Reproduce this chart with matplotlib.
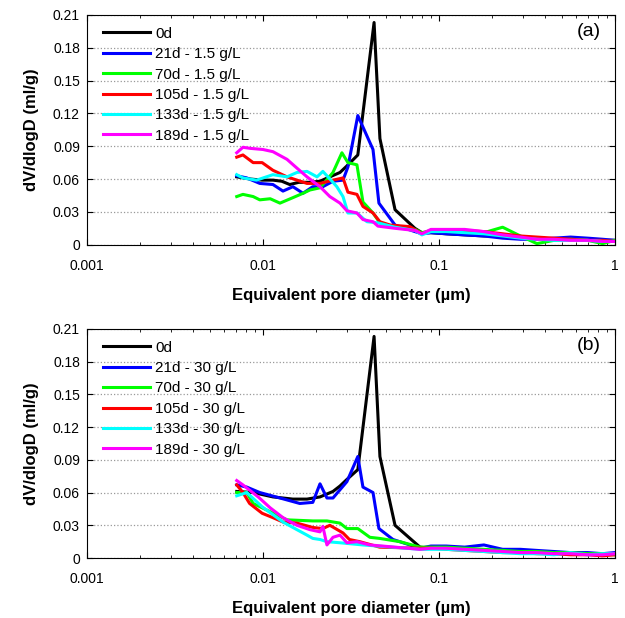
import matplotlib
matplotlib.use("Agg")
import matplotlib.pyplot as plt
from matplotlib.ticker import FixedLocator, LogLocator, NullFormatter

plt.rcParams['font.family'] = ['Liberation Sans', 'DejaVu Sans']

# pore diameters (um) and dV/dlogD (ml/g)
tail_a_x = [0.08, 0.09, 0.11, 0.14, 0.18, 0.23, 0.29, 0.36, 0.45, 0.56, 0.7, 0.85, 1.0]
tail_b_x = [0.09, 0.11, 0.14, 0.18, 0.23, 0.29, 0.36, 0.45, 0.56, 0.7, 0.85, 1.0]

# ---- (a) 1.5 g/L ----
black_a_x = [0.0071, 0.0085, 0.0099, 0.0114, 0.0128, 0.0142, 0.016, 0.0185, 0.0211, 0.024,
             0.0274, 0.030, 0.0346, 0.0428, 0.0462, 0.0563, 0.073]
black_a_y = [0.062, 0.060, 0.059, 0.059, 0.058, 0.055, 0.057, 0.057, 0.058, 0.062,
             0.066, 0.072, 0.082, 0.203, 0.097, 0.032, 0.015]
black_a_t = [0.011, 0.011, 0.010, 0.009, 0.008, 0.008, 0.007, 0.006, 0.005, 0.005, 0.005, 0.004, 0.004]

blue_a_x = [0.0071, 0.0081, 0.0096, 0.0114, 0.013, 0.0148, 0.0169, 0.0192, 0.0219, 0.025,
            0.0285, 0.0304, 0.0346, 0.0422, 0.0456, 0.0563, 0.073]
blue_a_y = [0.063, 0.061, 0.056, 0.055, 0.049, 0.053, 0.047, 0.053, 0.053, 0.058,
            0.059, 0.071, 0.118, 0.087, 0.038, 0.018, 0.012]
blue_a_t = [0.010, 0.011, 0.010, 0.009, 0.008, 0.006, 0.005, 0.005, 0.006, 0.007, 0.006, 0.005, 0.004]

green_a_x = [0.0071, 0.0077, 0.0088, 0.0096, 0.011, 0.0125, 0.0148, 0.0169, 0.0185, 0.0211,
             0.025, 0.0281, 0.0304, 0.0342, 0.037, 0.0422, 0.0462, 0.0563, 0.073]
green_a_y = [0.044, 0.046, 0.044, 0.041, 0.042, 0.038, 0.043, 0.047, 0.050, 0.052,
             0.066, 0.084, 0.075, 0.073, 0.039, 0.029, 0.020, 0.016, 0.014]
green_a_t = [0.011, 0.013, 0.013, 0.012, 0.011, 0.016, 0.008, 0.001, 0.004, 0.005, 0.004, 0.001, 0.004]

red_a_x = [0.0071, 0.0077, 0.0088, 0.0099, 0.0114, 0.0137, 0.0178, 0.0211, 0.025, 0.0285,
           0.0304, 0.0342, 0.037, 0.0422, 0.0462, 0.0527, 0.0684]
red_a_y = [0.080, 0.082, 0.075, 0.075, 0.068, 0.062, 0.056, 0.056, 0.059, 0.061,
           0.048, 0.046, 0.035, 0.029, 0.021, 0.018, 0.0165]
red_a_t = [0.010, 0.013, 0.013, 0.013, 0.012, 0.010, 0.008, 0.007, 0.006, 0.005, 0.004, 0.004, 0.003]

cyan_a_x = [0.0071, 0.0077, 0.0092, 0.0114, 0.0137, 0.0156, 0.0178, 0.0203, 0.0219, 0.025,
            0.0263, 0.0285, 0.0304, 0.0342, 0.039, 0.045, 0.0563, 0.073]
cyan_a_y = [0.064, 0.061, 0.059, 0.064, 0.062, 0.066, 0.067, 0.062, 0.067, 0.057,
            0.053, 0.044, 0.029, 0.029, 0.021, 0.020, 0.016, 0.013]
cyan_a_t = [0.009, 0.012, 0.012, 0.011, 0.010, 0.008, 0.006, 0.005, 0.004, 0.004, 0.004, 0.003, 0.003]

magenta_a_x = [0.0071, 0.0077, 0.0085, 0.010, 0.0114, 0.0137, 0.0156, 0.0178, 0.0211, 0.024,
               0.0274, 0.030, 0.0342, 0.037, 0.0422, 0.045, 0.0563, 0.073]
magenta_a_y = [0.084, 0.089, 0.088, 0.087, 0.085, 0.078, 0.070, 0.062, 0.053, 0.044,
               0.038, 0.031, 0.029, 0.023, 0.021, 0.017, 0.015, 0.013]
magenta_a_t = [0.010, 0.014, 0.014, 0.014, 0.012, 0.009, 0.007, 0.005, 0.005, 0.004, 0.004, 0.003, 0.003]

# ---- (b) 30 g/L ----
black_b_x = [0.0071, 0.0088, 0.0114, 0.0148, 0.0178, 0.0211, 0.025, 0.0274, 0.030, 0.0346,
             0.0428, 0.0462, 0.0563, 0.078]
black_b_y = [0.061, 0.060, 0.056, 0.054, 0.054, 0.056, 0.061, 0.066, 0.072, 0.081,
             0.203, 0.093, 0.030, 0.010]
black_b_t = [0.009, 0.009, 0.008, 0.007, 0.006, 0.005, 0.005, 0.004, 0.004, 0.004, 0.003, 0.004]

blue_b_x = [0.0071, 0.0081, 0.0096, 0.0125, 0.0162, 0.0192, 0.0211, 0.0231, 0.025, 0.030,
            0.0346, 0.037, 0.0422, 0.0456, 0.0548, 0.078]
blue_b_y = [0.067, 0.065, 0.060, 0.055, 0.050, 0.051, 0.068, 0.055, 0.055, 0.070,
            0.093, 0.065, 0.060, 0.027, 0.017, 0.009]
blue_b_t = [0.011, 0.011, 0.010, 0.012, 0.008, 0.008, 0.007, 0.006, 0.005, 0.005, 0.004, 0.005]

green_b_x = [0.0071, 0.0081, 0.0088, 0.0105, 0.0137, 0.0192, 0.0231, 0.0274, 0.030, 0.0346,
             0.0405, 0.046, 0.060, 0.078]
green_b_y = [0.060, 0.060, 0.050, 0.044, 0.035, 0.034, 0.034, 0.032, 0.027, 0.027,
             0.019, 0.018, 0.015, 0.010]
green_b_t = [0.010, 0.010, 0.009, 0.008, 0.007, 0.006, 0.006, 0.005, 0.005, 0.004, 0.004, 0.003]

red_b_x = [0.0071, 0.0077, 0.0084, 0.0099, 0.0114, 0.013, 0.0156, 0.0192, 0.0219, 0.024,
           0.0285, 0.031, 0.0355, 0.046, 0.078]
red_b_y = [0.067, 0.060, 0.050, 0.041, 0.037, 0.033, 0.032, 0.028, 0.027, 0.030,
           0.023, 0.017, 0.015, 0.010, 0.009]
red_b_t = [0.009, 0.008, 0.007, 0.006, 0.005, 0.005, 0.004, 0.004, 0.003, 0.003, 0.002, 0.003]

cyan_b_x = [0.0071, 0.0081, 0.0099, 0.013, 0.0156, 0.0178, 0.0192, 0.0211, 0.0231, 0.0274,
            0.037, 0.045, 0.078]
cyan_b_y = [0.057, 0.060, 0.047, 0.033, 0.026, 0.021, 0.018, 0.017, 0.015, 0.014,
            0.012, 0.011, 0.008]
cyan_b_t = [0.008, 0.008, 0.007, 0.006, 0.005, 0.004, 0.004, 0.003, 0.005, 0.003, 0.004, 0.004]

magenta_b_x = [0.0071, 0.0077, 0.0094, 0.011, 0.013, 0.0156, 0.0185, 0.0211, 0.0219, 0.0231,
               0.025, 0.0274, 0.030, 0.0342, 0.0405, 0.078]
magenta_b_y = [0.071, 0.067, 0.056, 0.046, 0.037, 0.030, 0.026, 0.024, 0.029, 0.012,
               0.019, 0.021, 0.014, 0.015, 0.012, 0.008]
magenta_b_t = [0.009, 0.009, 0.008, 0.007, 0.006, 0.005, 0.005, 0.004, 0.004, 0.003, 0.003, 0.004]

colors = ['#000000', '#0000ff', '#00ff00', '#ff0000', '#00ffff', '#ff00ff']
ages = ['0d', '21d', '70d', '105d', '133d', '189d']
y_ticks = [0, 0.03, 0.06, 0.09, 0.12, 0.15, 0.18, 0.21]
y_labels = ['0', '0.03', '0.06', '0.09', '0.12', '0.15', '0.18', '0.21']
x_ticks = [0.001, 0.01, 0.1, 1]
x_labels = ['0.001', '0.01', '0.1', '1']

panels = [
    ('(a)', '1.5 g/L', tail_a_x,
     [(black_a_x, black_a_y, black_a_t), (blue_a_x, blue_a_y, blue_a_t),
      (green_a_x, green_a_y, green_a_t), (red_a_x, red_a_y, red_a_t),
      (cyan_a_x, cyan_a_y, cyan_a_t), (magenta_a_x, magenta_a_y, magenta_a_t)]),
    ('(b)', '30 g/L', tail_b_x,
     [(black_b_x, black_b_y, black_b_t), (blue_b_x, blue_b_y, blue_b_t),
      (green_b_x, green_b_y, green_b_t), (red_b_x, red_b_y, red_b_t),
      (cyan_b_x, cyan_b_y, cyan_b_t), (magenta_b_x, magenta_b_y, magenta_b_t)]),
]

fig = plt.figure(figsize=(6.25, 6.18), dpi=100)
boxes = [[0.139, 0.604, 0.845, 0.372], [0.139, 0.097, 0.845, 0.371]]

for box, (tag, conc, tail_x, series) in zip(boxes, panels):
    ax = fig.add_axes(box)
    for i, (xs, ys, ts) in enumerate(series):
        label = ages[i] if i == 0 else ages[i] + ' - ' + conc
        ax.plot(xs + tail_x, ys + ts, color=colors[i], lw=2.2, label=label)

    ax.set_xscale('log')
    ax.set_xlim(0.001, 1)
    ax.set_ylim(0, 0.21)
    ax.xaxis.set_major_locator(FixedLocator(x_ticks))
    ax.set_xticklabels(x_labels)
    ax.xaxis.set_minor_locator(LogLocator(base=10, subs=range(2, 10)))
    ax.xaxis.set_minor_formatter(NullFormatter())
    ax.set_yticks(y_ticks)
    ax.set_yticklabels(y_labels)
    ax.tick_params(which='both', direction='in', top=True, right=True, labelsize=10)
    ax.tick_params(which='major', length=4)
    ax.tick_params(which='minor', length=2.5)
    ax.tick_params(axis='x', pad=10)
    ax.tick_params(axis='y', pad=5)
    ax.grid(axis='y', linestyle=':', color='#999999', lw=0.9)

    ax.set_xlabel('Equivalent pore diameter (µm)', fontsize=12, fontweight='bold', labelpad=11)
    ax.set_ylabel('dV/dlogD (ml/g)', fontsize=12, fontweight='bold', labelpad=10)
    ax.text(0.973, 0.926, tag, transform=ax.transAxes, ha='right', va='center', fontsize=14)
    ax.legend(loc='upper left', bbox_to_anchor=(0.019, 0.975), frameon=False, fontsize=11,
              handlelength=3.1, handletextpad=0.33, labelspacing=0.42, borderaxespad=0)

fig.savefig('out.png', dpi=100)
